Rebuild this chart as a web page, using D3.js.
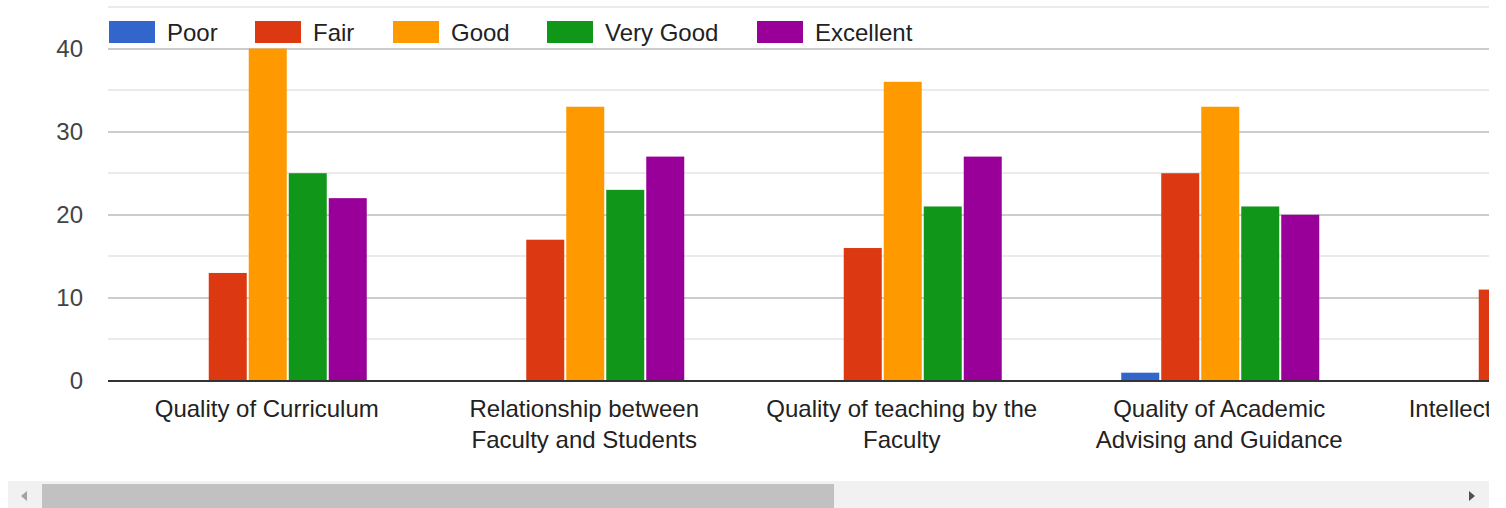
<!DOCTYPE html>
<html>
<head>
<meta charset="utf-8">
<script src="https://cdn.jsdelivr.net/npm/d3@7"></script>
<style>
  body { margin: 0; background: #fff; overflow: hidden; }
  svg { font-family: Arial, "Liberation Sans", sans-serif; display: block; }
</style>
</head>
<body>
<div id="the_chart"></div>
<script>
// data
var categories = ['Quality of Curriculum', 'Relationship between Faculty and Students',
  'Quality of teaching by the Faculty', 'Quality of Academic Advising and Guidance',
  'Intellectual Environment'];
var labelLines = [
  ['Quality of Curriculum'],
  ['Relationship between', 'Faculty and Students'],
  ['Quality of teaching by the', 'Faculty'],
  ['Quality of Academic', 'Advising and Guidance'],
  ['Intellectual Environment']
];
var seriesNames = ['Poor', 'Fair', 'Good', 'Very Good', 'Excellent'];
var poor = [0, 0, 0, 1, 0];
var fair = [13, 17, 16, 25, 11];
var good = [40, 33, 36, 33, 30];
var veryGood = [25, 23, 21, 21, 28];
var excellent = [22, 27, 27, 20, 30];
var yTicks = [0, 10, 20, 30, 40];
var yMinor = [5, 15, 25, 35, 45];

var colors = ['#3366cc', '#dc3912', '#ff9900', '#109618', '#990099'];
var allSeries = [poor, fair, good, veryGood, excellent];

var W = 1506, H = 508;
var plotLeft = 108, plotRight = 1489, plotBottom = 381, plotTop = 7;

var canvas = d3.select('#the_chart').append('svg')
  .attr('width', W).attr('height', H);

var band = 317.5;
var xscale = d3.scaleBand()
  .domain(categories)
  .range([plotLeft, plotLeft + band * categories.length]);

var inner = d3.scaleBand()
  .domain(seriesNames)
  .range([-98, 100])
  .paddingInner(0.05);

var yscale = d3.scaleLinear().domain([0, 45]).range([plotBottom, plotTop]);

canvas.append('clipPath').attr('id', 'plotclip')
  .append('rect').attr('x', plotLeft).attr('y', 0).attr('width', plotRight - plotLeft).attr('height', 470);

// grid
var grid = canvas.append('g').attr('id', 'grid');
grid.selectAll('line.minor')
  .data(yMinor).enter().append('line')
  .attr('class', 'minor')
  .attr('x1', plotLeft).attr('x2', plotRight)
  .attr('y1', function(d){ return Math.round(yscale(d)); })
  .attr('y2', function(d){ return Math.round(yscale(d)); })
  .style('stroke', '#ebebeb').style('stroke-width', '2px');
grid.selectAll('line.major')
  .data(yTicks.slice(1)).enter().append('line')
  .attr('class', 'major')
  .attr('x1', plotLeft).attr('x2', plotRight)
  .attr('y1', function(d){ return Math.round(yscale(d)); })
  .attr('y2', function(d){ return Math.round(yscale(d)); })
  .style('stroke', '#cccccc').style('stroke-width', '2px');

// y labels
canvas.append('g').selectAll('text')
  .data(yTicks).enter().append('text')
  .attr('x', 83)
  .attr('y', function(d){ return yscale(d) + 8; })
  .attr('text-anchor', 'end')
  .style('font-size', '24px')
  .attr('fill', '#444')
  .text(function(d){ return d; });

// bars
var bars = canvas.append('g').attr('id', 'bars').attr('clip-path', 'url(#plotclip)');
var barData = [];
categories.forEach(function(c, i) {
  seriesNames.forEach(function(s, j) {
    barData.push({cat: c, series: s, value: allSeries[j][i], color: colors[j]});
  });
});
bars.selectAll('rect')
  .data(barData.filter(function(d){ return d.value > 0; }))
  .enter().append('rect')
  .attr('x', function(d){ return xscale(d.cat) + xscale.bandwidth() / 2 + inner(d.series); })
  .attr('width', inner.bandwidth())
  .attr('y', function(d){ return yscale(d.value); })
  .attr('height', function(d){ return plotBottom - yscale(d.value); })
  .style('fill', function(d){ return d.color; });

// baseline
canvas.append('line')
  .attr('x1', plotLeft).attr('x2', plotRight)
  .attr('y1', plotBottom).attr('y2', plotBottom)
  .style('stroke', '#333').style('stroke-width', '2px');

// x labels
var xl = canvas.append('g').attr('clip-path', 'url(#plotclip)')
  .selectAll('text')
  .data(categories).enter().append('text')
  .attr('text-anchor', 'middle')
  .style('font-size', '24px')
  .attr('fill', '#222');
xl.each(function(d, i) {
  var t = d3.select(this);
  labelLines[i].forEach(function(line, k) {
    t.append('tspan')
      .attr('x', xscale(d) + xscale.bandwidth() / 2)
      .attr('y', 417 + k * 31)
      .text(line);
  });
});

// legend
var legend = canvas.append('g').attr('id', 'legend');
var legendX = [109, 255, 393, 547, 757];
var items = legend.selectAll('g')
  .data(seriesNames).enter().append('g')
  .attr('transform', function(d, i){ return 'translate(' + legendX[i] + ',21)'; });
items.append('rect')
  .attr('width', 46).attr('height', 22)
  .style('fill', function(d, i){ return colors[i]; });
items.append('text')
  .attr('x', 58).attr('y', 20)
  .style('font-size', '24px')
  .attr('fill', '#222')
  .text(function(d){ return d; });

// scrollbar
var sb = canvas.append('g').attr('id', 'scrollbar');
sb.append('rect').attr('x', 8).attr('y', 481).attr('width', plotRight - 8).attr('height', 27).style('fill', '#f1f1f1');
sb.append('rect').attr('x', 42).attr('y', 484).attr('width', 792).attr('height', 24).style('fill', '#c1c1c1');
sb.append('path').attr('d', 'M27,491 L21,496 L27,501 Z').style('fill', '#a3a3a3');
sb.append('path').attr('d', 'M1469,491 L1475,496 L1469,501 Z').style('fill', '#505050');
</script>
</body>
</html>
